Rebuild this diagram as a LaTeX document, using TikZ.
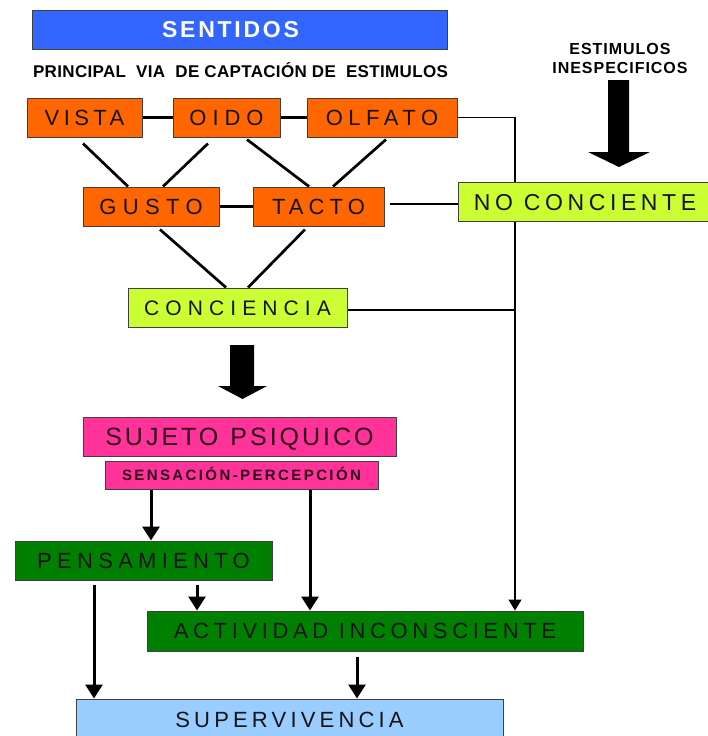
\documentclass[tikz,border=0pt]{standalone}
\usepackage{fontspec}
\setmainfont{Liberation Sans}
\usetikzlibrary{arrows.meta,calc,backgrounds}
\definecolor{cblue}{HTML}{3366FF}
\definecolor{corange}{HTML}{FF6600}
\definecolor{clime}{HTML}{CCFF33}
\definecolor{cmag}{HTML}{FF3399}
\definecolor{cgreen}{HTML}{008000}
\definecolor{clblue}{HTML}{99CCFF}
\definecolor{txt}{HTML}{141414}
\definecolor{txtm}{HTML}{2E0619}
\definecolor{edge}{HTML}{404040}
\newcommand\myls[2]{\fontsize{#1}{#1}\selectfont\addfontfeatures{LetterSpace=#2}}
\newcommand\mylsb[2]{\fontsize{#1}{#1}\selectfont\bfseries\addfontfeatures{LetterSpace=#2}}
\tikzset{
  box/.style={draw=edge, line width=1pt, inner sep=0pt, text depth=0pt, text=txt},
  orbox/.style={box, fill=corange, minimum height=39, text height=15.75pt},
  limebox/.style={box, fill=clime, minimum height=39},
  magbox/.style={box, fill=cmag, text=txtm},
  grbox/.style={box, fill=cgreen, minimum height=40, text height=15.75pt},
  lbbox/.style={box, fill=clblue, minimum height=41, text height=15.75pt},
  plain/.style={inner sep=0pt, text depth=0pt, text=black},
  thickline/.style={line width=3pt},
  diagline/.style={line width=2.7pt},
  thinline/.style={line width=1.5pt},
  arr/.style={line width=3pt, -{Triangle[width=17pt,length=14pt]}},
  thinarr/.style={line width=1.5pt, -{Triangle[width=13pt,length=11pt]}},
}
\begin{document}
\begin{tikzpicture}[x=1pt,y=-1pt]
\useasboundingbox (0,0) rectangle (707,736);

% title
\node[box, fill=cblue, minimum width=415, minimum height=39, text height=16.5pt, text=white, font=\mylsb{23}{12}] (sentidos) at (239.5,29.5) {\hspace*{-18pt}SENTIDOS};
\node[plain, text height=12.2pt, font=\mylsb{17}{2}] (principal) at (240.5,71) {PRINCIPAL\ \ VIA\ \ DE CAPTACIÓN DE\ \ ESTIMULOS};
\node[plain, text height=11.5pt, font=\mylsb{16}{6}] (estA) at (620,48.5) {ESTIMULOS};
\node[plain, text height=11.5pt, font=\mylsb{16}{6}] (estB) at (620,68) {INESPECIFICOS};

% senses
\node[orbox, minimum width=115, font=\myls{22}{20}] (vista) at (84.5,117.5) {VISTA};
\node[orbox, minimum width=107, font=\myls{22}{27}] (oido) at (226.5,117.5) {OIDO};
\node[orbox, minimum width=150, font=\myls{22}{25}] (olfato) at (382,117.5) {OLFATO};
\node[orbox, minimum width=136, font=\myls{22}{29}] (gusto) at (151,206.5) {GUSTO};
\node[orbox, minimum width=131, font=\myls{22}{23}] (tacto) at (318.5,206.5) {TACTO};

\node[limebox, minimum width=254, text height=16.5pt, font=\myls{23}{20}] (noconc) at (585,202) {NO CONCIENTE};
\node[limebox, minimum width=219, text height=15pt, font=\myls{21}{29}] (conciencia) at (237.5,307.5) {CONCIENCIA};

\node[magbox, minimum width=313, minimum height=39, text height=17.9pt, font=\myls{25}{12}] (sujeto) at (239.5,436.5) {SUJETO\hspace{12pt}PSIQUICO};
\node[magbox, minimum width=273, minimum height=28, text height=10.7pt, font=\mylsb{15}{16}] (sensacion) at (241.5,475) {SENSACIÓN-PERCEPCIÓN};

\node[grbox, minimum width=257, minimum height=39, font=\myls{22}{24}] (pensamiento) at (143.5,560.5) {PENSAMIENTO};
\node[grbox, minimum width=436, font=\myls{22}{21}] (actividad) at (365,631) {ACTIVIDAD INCONSCIENTE};
\node[lbbox, minimum width=427, font=\myls{22}{19}] (supervivencia) at (289.5,719.5) {SUPERVIVENCIA};

% helper x positions
\coordinate (xr) at (515,0);
\coordinate (xa) at (151,0);
\coordinate (xb) at (310,0);
\coordinate (xc) at (197,0);
\coordinate (xd) at (94,0);
\coordinate (xe) at (357,0);

% big arrows
\fill[black] (608,80) -- (629,80) -- (629,152) -- (650,152) -- (619,167) -- (588,152) -- (608,152) -- cycle;
\fill[black] (230,345) -- (254,345) -- (254,386) -- (267,386) -- (242.5,399) -- (218,386) -- (230,386) -- cycle;

\begin{scope}[on background layer]
\fill[white] (0,0) rectangle (707,736);
% horizontal links
\draw[thickline] (vista) -- (oido);
\draw[thickline] (oido) -- (olfato);
\draw[thickline] (gusto) -- (tacto);
% diagonals
\draw[diagline] ($(vista.south)+(-1.5,6)$) -- ($(gusto.north)+(-23,0)$);
\draw[diagline] ($(oido.south)+(-18.5,6)$) -- ($(gusto.north)+(12,0)$);
\draw[diagline] ($(oido.south)+(20.5,2)$) -- ($(tacto.north)+(-9.5,0)$);
\draw[diagline] ($(olfato.south)+(4,2)$) -- ($(tacto.north)+(14.5,0)$);
\draw[diagline] ($(gusto.south)+(9,3)$) -- ($(conciencia.north)+(-11.5,0)$);
\draw[diagline] ($(tacto.south)+(-13.5,3)$) -- ($(conciencia.north)+(10.5,0)$);
% thin connectors
\draw[thinarr] (olfato.east) -| (actividad.north -| xr);
\draw[thinline] ($(tacto.east)+(5,-2.5)$) coordinate (t1) -- (t1 -| noconc.west);
\draw[thinline] ($(conciencia.east)+(0,2.5)$) coordinate (c1) -- (c1 -| xr);
% arrows
\draw[arr] (sensacion.south -| xa) -- (pensamiento.north -| xa);
\draw[arr] (sensacion.south -| xb) -- (actividad.north -| xb);
\draw[arr] ($(pensamiento.south -| xc)+(0,4)$) -- (actividad.north -| xc);
\draw[arr] ($(pensamiento.south -| xd)+(0,4)$) -- (supervivencia.north -| xd);
\draw[arr] ($(actividad.south -| xe)+(0,5)$) -- (supervivencia.north -| xe);
\end{scope}
\end{tikzpicture}
\end{document}
